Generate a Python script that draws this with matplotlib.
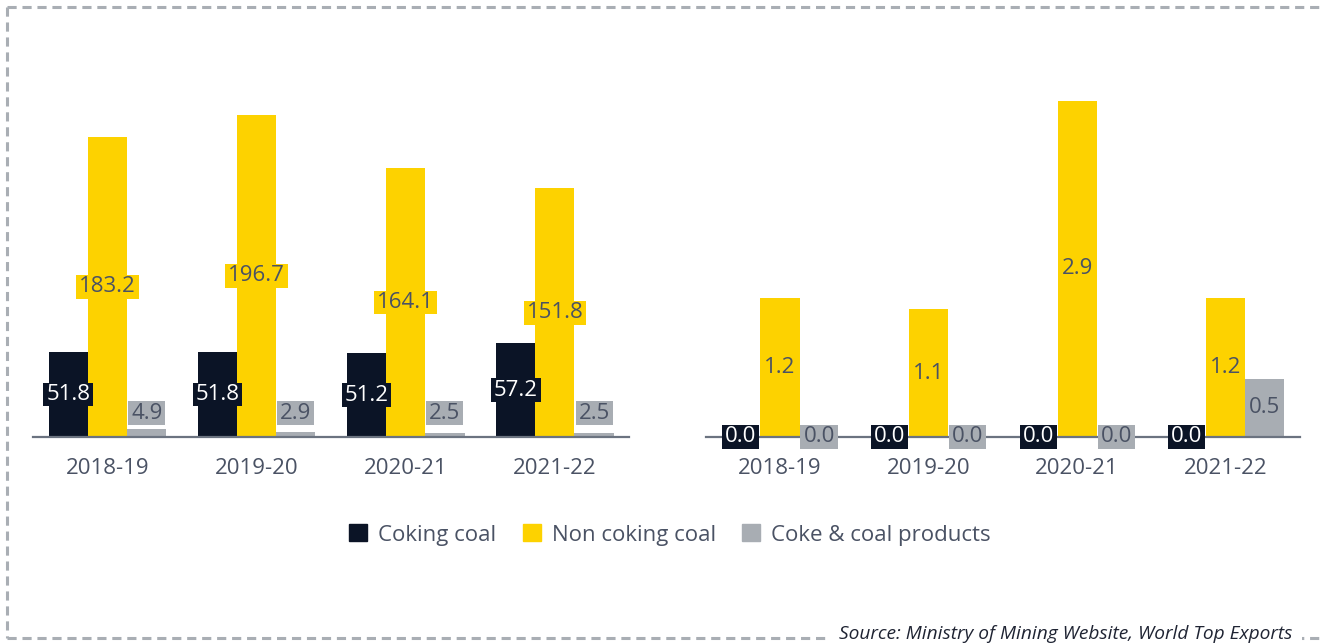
import numpy as np
import matplotlib.pyplot as plt
from matplotlib.lines import Line2D
from matplotlib.patches import Patch
from matplotlib.path import Path

plt.rcParams['font.family'] = ['Open Sans', 'DejaVu Sans']

years = ['2018-19', '2019-20', '2020-21', '2021-22']
series = ['Coking coal', 'Non coking coal', 'Coke & coal products']

# left panel
coking_l = [51.8, 51.8, 51.2, 57.2]
noncoking_l = [183.2, 196.7, 164.1, 151.8]
coke_l = [4.9, 2.9, 2.5, 2.5]
# right panel
coking_r = [0.0, 0.0, 0.0, 0.0]
noncoking_r = [1.2, 1.1, 2.9, 1.2]
coke_r = [0.0, 0.0, 0.0, 0.5]

dark = '#0b1426'
yellow = '#fdd200'
grey = '#a8adb3'
txt = '#4a5264'
colors = [dark, yellow, grey]
txtcols = ['white', txt, txt]


class LabelBox:
    # rectangle with more side padding than top/bottom padding
    def __call__(self, x0, y0, width, height, mutation_size):
        px, py = 0.13 * mutation_size, 0.06 * mutation_size
        x0, y0 = x0 - px, y0 - py
        x1, y1 = x0 + width + 2 * px, y0 + height + 2 * py
        return Path([(x0, y0), (x1, y0), (x1, y1), (x0, y1), (x0, y0)], closed=True)


fig = plt.figure(figsize=(13.24, 6.43), dpi=100)
ax1 = fig.add_axes([0.0249, 0.3204, 0.4505, 0.6485])
ax2 = fig.add_axes([0.533, 0.3204, 0.4489, 0.6485])

x = np.arange(len(years))
w = 0.263


def draw(ax, data, ymax, minlab):
    for k, vals in enumerate(data):
        xs = x + (k - 1) * w
        ax.bar(xs, vals, width=w, color=colors[k], zorder=2)
        for xi, v in zip(xs, vals):
            yl = v / 2 if v / 2 > minlab else minlab
            if v == 0:
                yl = 0
            ax.text(xi, yl, f'{v:.1f}', ha='center', va='center',
                    fontsize=16, color=txtcols[k], zorder=4,
                    bbox=dict(boxstyle=LabelBox(), fc=colors[k], ec='none'))
    ax.set_xlim(-0.5, 3.5)
    ax.set_ylim(0, ymax)
    ax.set_xticks(x)
    ax.set_xticklabels(years, fontsize=16, color=txt)
    ax.set_yticks([])
    ax.tick_params(axis='x', length=0, pad=15)
    for s in ['left', 'right', 'top']:
        ax.spines[s].set_visible(False)
    ax.spines['bottom'].set_color('#6b7380')
    ax.spines['bottom'].set_linewidth(1.6)
    ax.spines['bottom'].set_zorder(3)
    ax.patch.set_alpha(0)


draw(ax1, [coking_l, noncoking_l, coke_l], 254.6, 14.5)
draw(ax2, [coking_r, noncoking_r, coke_r], 3.595, 0)

handles = [Patch(color=c) for c in colors]
fig.legend(handles, series, loc='center', bbox_to_anchor=(670 / 1324, 1 - 535 / 643),
           ncol=3, frameon=False, fontsize=16, labelcolor=txt,
           handlelength=0.8, handleheight=0.8, handletextpad=0.5, columnspacing=1.2)

# dashed frame
bc = '#a9aeb4'
dash = dict(color=bc, lw=2.2, linestyle=(0, (3, 1.9)), transform=fig.transFigure)
fig.add_artist(Line2D([7 / 1324, 1], [1 - 7 / 643, 1 - 7 / 643], **dash))
fig.add_artist(Line2D([7 / 1324, 7 / 1324], [1 - 7 / 643, 1 - 638 / 643], **dash))
fig.add_artist(Line2D([7 / 1324, 1], [1 - 638 / 643, 1 - 638 / 643], **dash))

fig.text(1292 / 1324, 1 - 634 / 643, 'Source: Ministry of Mining Website, World Top Exports',
         ha='right', va='center', fontsize=13.8, style='italic', color='#1f2433',
         bbox=dict(boxstyle='square,pad=0.5', fc='white', ec='none'))

plt.savefig('out.png', dpi=100)
